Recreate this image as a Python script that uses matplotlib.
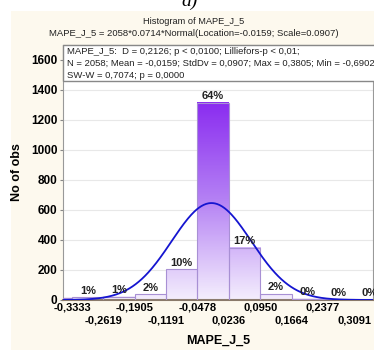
import matplotlib
matplotlib.use("Agg")
import matplotlib.pyplot as plt
import numpy as np
from matplotlib.colors import LinearSegmentedColormap
from matplotlib.patches import Rectangle

# histogram of MAPE_J_5 (visible part)
bin_edges = [-0.4047, -0.3333, -0.2619, -0.1905, -0.1191, -0.0478,
             0.0236, 0.0950, 0.1664, 0.2377, 0.3091, 0.3805]
counts = [15, 20, 22, 38, 205, 1315, 350, 40, 8, 4, 2]
pct_labels = [None, "1%", "1%", "2%", "10%", "64%", "17%", "2%", "0%", "0%", "0%"]
tick_vals = [-0.3333, -0.2619, -0.1905, -0.1191, -0.0478,
             0.0236, 0.0950, 0.1664, 0.2377, 0.3091]
n_obs = 2058
bin_w = 0.0714
loc = -0.0159
scale = 0.0907

plt.rcParams["font.family"] = ["Liberation Sans", "DejaVu Sans"]

fig = plt.figure(figsize=(3.74, 3.5), dpi=100)
bg = Rectangle((11 / 374, 0), 1, 1 - 11 / 350, transform=fig.transFigure,
               facecolor="#fdf9ee", edgecolor="none", zorder=-10)
fig.add_artist(bg)

ax = fig.add_axes([63 / 374, 50 / 350, 310 / 374, 255 / 350])
ax.set_facecolor("white")

cmap = LinearSegmentedColormap.from_list("purp", ["#f4eefd", "#b582f4", "#8a2cf0"])
for i, c in enumerate(counts):
    x0, x1 = bin_edges[i], bin_edges[i + 1]
    grad = np.linspace(0, c, 100)[:, None]
    ax.imshow(grad, extent=[x0, x1, 0, c], origin="lower", aspect="auto",
              cmap=cmap, vmin=0, vmax=1320, zorder=2)
    ax.add_patch(Rectangle((x0, 0), x1 - x0, c, facecolor="none",
                           edgecolor="#a890d4", lw=0.8, zorder=3))
    if pct_labels[i]:
        ax.text((x0 + x1) / 2, c + 10, pct_labels[i], ha="center", va="bottom",
                fontsize=8, fontweight="bold", color="#222222", zorder=5)

xs = np.linspace(-0.36, 0.36, 400)
ys = n_obs * bin_w * np.exp(-0.5 * ((xs - loc) / scale) ** 2) / (scale * np.sqrt(2 * np.pi))
ax.plot(xs, ys, color="#1515d0", lw=1.3, zorder=4)

ax.set_xlim(-0.354, 0.352)
ax.set_ylim(0, 1700)
ax.set_yticks(range(0, 1601, 200))
ax.set_yticklabels([str(v) for v in range(0, 1601, 200)], fontsize=8.5, fontweight="bold")
ax.yaxis.grid(True, color="#e8e8e8", lw=0.8, zorder=1)
ax.set_axisbelow(True)

labels = []
for i, v in enumerate(tick_vals):
    s = ("%.4f" % v).replace(".", ",")
    labels.append(s if i % 2 == 0 else "\n" + s)
ax.set_xticks(tick_vals)
ax.set_xticklabels(labels, fontsize=8, fontweight="bold", linespacing=1.3)
ax.tick_params(axis="x", length=0, pad=2)
ax.tick_params(axis="y", length=2, pad=2, color="#888888")

for s in ["top", "right", "left"]:
    ax.spines[s].set_color("#999999")
ax.spines["bottom"].set_color("#8a7a6a")
ax.spines["bottom"].set_linewidth(1.5)

ax.set_xlabel("MAPE_J_5", fontsize=9, fontweight="bold", labelpad=7)
ax.set_ylabel("No of obs", fontsize=9, fontweight="bold", labelpad=6)

# stats box at the top of the plot
box_bot = (300 - 81) / 255
ax.add_patch(Rectangle((0, box_bot), 1.2, 1 - box_bot, transform=ax.transAxes,
                       facecolor="white", edgecolor="#888888", lw=1.0, zorder=6,
                       clip_on=False))
stats = ["MAPE_J_5:  D = 0,2126; p < 0,0100; Lilliefors-p < 0,01;",
         "N = 2058; Mean = -0,0159; StdDv = 0,0907; Max = 0,3805; Min = -0,6902",
         "SW-W = 0,7074; p = 0,0000"]
for k, line in enumerate(stats):
    ax.text(4 / 310, 1 - (6 + k * 12) / 255, line, transform=ax.transAxes,
            fontsize=6.8, va="center", ha="left", color="#222222", zorder=7, clip_on=False)

fig.text(194 / 374, 1 - 21 / 350, "Histogram of MAPE_J_5", ha="center", va="center",
         fontsize=6.7, color="#222222")
fig.text(194 / 374, 1 - 34 / 350,
         "MAPE_J_5 = 2058*0.0714*Normal(Location=-0.0159; Scale=0.0907)",
         ha="center", va="center", fontsize=6.8, color="#222222")
fig.text(190 / 374, 1 - 1 / 350, "a)", ha="center", va="center", fontsize=14,
         style="italic", family="Liberation Serif")

fig.savefig("out.png", dpi=100)
